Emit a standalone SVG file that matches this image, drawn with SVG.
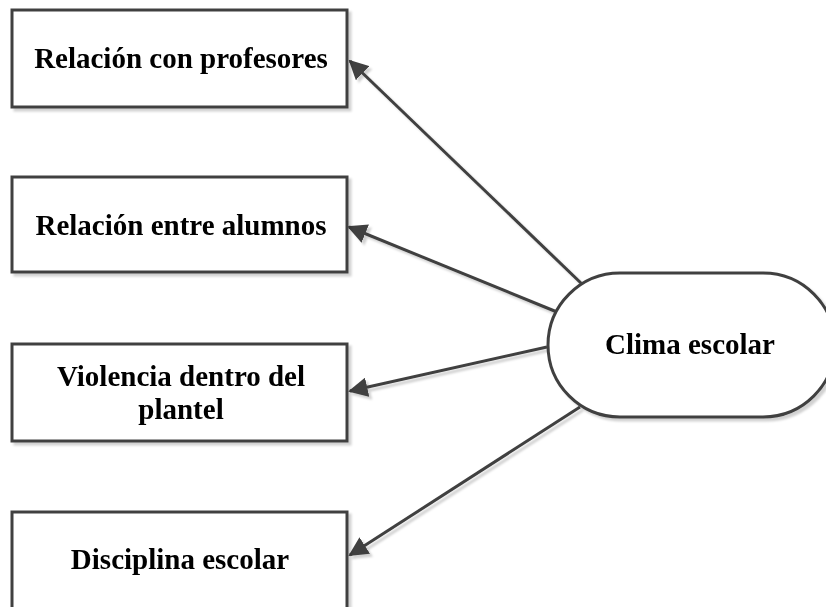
<svg xmlns="http://www.w3.org/2000/svg" width="826" height="607" viewBox="0 0 826 607">
<style>
.box{fill:#fff;stroke:#404040;stroke-width:3}
.lbl{font-family:"Liberation Serif","Times New Roman",serif;font-weight:bold;font-size:29px;fill:#000;text-anchor:middle}
.conn{stroke:#404040;stroke-width:3;fill:none;marker-end:url(#ah)}
</style>
<defs>
<filter id="sh" x="-10%" y="-10%" width="130%" height="130%">
<feDropShadow dx="3" dy="3" stdDeviation="1" flood-color="#000" flood-opacity="0.18"/>
</filter>
<marker id="ah" viewBox="0 0 10 10" refX="9" refY="5" markerWidth="6.5" markerHeight="6.5" orient="auto" markerUnits="strokeWidth">
<path d="M0,0 L10,5 L0,10 z" fill="#404040"/>
</marker>
</defs>
<g id="connectors" filter="url(#sh)">
<line class="conn" x1="583" y1="285" x2="350" y2="61"/>
<line class="conn" x1="557" y1="312" x2="349" y2="227"/>
<line class="conn" x1="547" y1="347" x2="350" y2="391"/>
<line class="conn" x1="580" y1="407" x2="350" y2="555"/>
</g>
<g id="n1" filter="url(#sh)">
<rect class="box" x="12" y="10" width="335" height="97"/>
<text class="lbl" x="181" y="68">Relación con profesores</text>
</g>
<g id="n2" filter="url(#sh)">
<rect class="box" x="12" y="177" width="335" height="95"/>
<text class="lbl" x="181" y="235">Relación entre alumnos</text>
</g>
<g id="n3" filter="url(#sh)">
<rect class="box" x="12" y="344" width="335" height="97"/>
<text class="lbl" x="181" y="386">Violencia dentro del</text>
<text class="lbl" x="181" y="419">plantel</text>
</g>
<g id="n4" filter="url(#sh)">
<rect class="box" x="12" y="512" width="335" height="100"/>
<text class="lbl" x="180" y="569">Disciplina escolar</text>
</g>
<g id="n5" filter="url(#sh)">
<rect class="box" x="548" y="273" width="287" height="144" rx="72" ry="72"/>
<text class="lbl" x="690" y="354">Clima escolar</text>
</g>
</svg>
